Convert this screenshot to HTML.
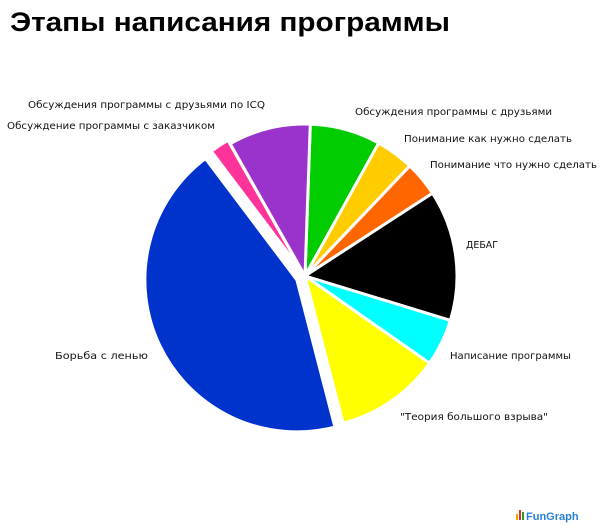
<!DOCTYPE html>
<html><head><meta charset="utf-8"><style>
html,body{margin:0;padding:0;background:#fff;width:600px;height:530px;overflow:hidden}
svg text{font-family:"DejaVu Sans","Liberation Sans",sans-serif;font-size:9.5px;fill:#111}
</style></head><body>
<svg id="s" width="600" height="530" xmlns="http://www.w3.org/2000/svg">
<text x="10" y="31" textLength="440" lengthAdjust="spacingAndGlyphs" style="font-family:'Liberation Sans',sans-serif;font-size:27px;font-weight:bold;fill:#000">Этапы написания программы</text>
<g id="pie"></g>
<text x="28" y="108" textLength="237" lengthAdjust="spacingAndGlyphs">Обсуждения программы с друзьями по ICQ</text>
<text x="7" y="129" textLength="208" lengthAdjust="spacingAndGlyphs">Обсуждение программы с заказчиком</text>
<text x="355" y="115" textLength="197" lengthAdjust="spacingAndGlyphs">Обсуждения программы с друзьями</text>
<text x="404" y="142" textLength="168" lengthAdjust="spacingAndGlyphs">Понимание как нужно сделать</text>
<text x="430" y="168" textLength="167" lengthAdjust="spacingAndGlyphs">Понимание что нужно сделать</text>
<text x="466" y="248" textLength="32" lengthAdjust="spacingAndGlyphs">ДЕБАГ</text>
<text x="450" y="359" textLength="121" lengthAdjust="spacingAndGlyphs">Написание программы</text>
<text x="400" y="420" textLength="148" lengthAdjust="spacingAndGlyphs">"Теория большого взрыва"</text>
<text x="55" y="359" textLength="93" lengthAdjust="spacingAndGlyphs">Борьба с ленью</text>
<rect x="516" y="514" width="2" height="6" fill="#f5a000"/><rect x="519" y="510" width="2" height="10" fill="#e03020"/><rect x="522" y="512" width="2" height="8" fill="#2a9a2a"/>
<text x="526" y="520" style="font-family:'Liberation Sans',sans-serif;font-size:11px;font-weight:bold;fill:#2a80d8">FunGraph</text>
</svg>
<script>
var cx=305,cy=276,r=152;
var sl=[[2,29,"#00cc00",0],[29,43.6,"#ffcc00",0],[43.6,57,"#ff6600",0],[57,107,"#000000",0],[107,125,"#00ffff",0],[125,165.5,"#ffff00",0],[165.5,323,"#0033cc",9],[323,330.5,"#ff3399",4],[330.5,362,"#9933cc",0]];
var g=document.getElementById("pie"),h="";
function p(a,rr,ox,oy){var t=(a-90)*Math.PI/180;return (cx+ox+rr*Math.cos(t)).toFixed(2)+","+(cy+oy+rr*Math.sin(t)).toFixed(2);}
sl.forEach(function(s){var m=(s[0]+s[1])/2,t=(m-90)*Math.PI/180,ox=s[3]*Math.cos(t),oy=s[3]*Math.sin(t);
var large=(s[1]-s[0])>180?1:0;
h+='<path d="M'+(cx+ox)+','+(cy+oy)+' L'+p(s[0],r,ox,oy)+' A'+r+','+r+' 0 '+large+' 1 '+p(s[1],r,ox,oy)+' Z" fill="'+s[2]+'" stroke="#fff" stroke-width="3" stroke-linejoin="round"/>';});
g.innerHTML=h;
</script>
</body></html>
